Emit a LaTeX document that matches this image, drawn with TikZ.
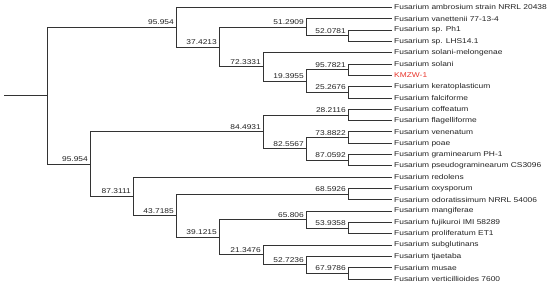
\documentclass[tikz,border=0pt]{standalone}
\usepackage{fontspec}
\newfontfamily\labfont{Liberation Sans}
\newcommand\hstr[1]{\scalebox{1.2}[1]{#1}}
\definecolor{treeline}{HTML}{333333}
\definecolor{txt}{HTML}{222222}
\definecolor{kmred}{HTML}{E8352B}
\tikzset{
  br/.style={draw=treeline, line width=0.85pt},
  leaflab/.style={anchor=west, inner sep=0pt, font=\labfont\fontsize{7}{8}\selectfont, text=txt},
  nlab/.style={anchor=base east, inner sep=0pt, font=\labfont\fontsize{7}{8}\selectfont, text=txt},
}
\begin{document}
\begin{tikzpicture}[x=1pt,y=-1pt]
\useasboundingbox (0,0) rectangle (550,288);
% leaves
\foreach \i/\nm in {0/l0,1/l1,2/l2,3/l3,4/l4,5/l5,6/l6,7/l7,8/l8,9/l9,10/l10,11/l11,12/l12,13/l13,14/l14,15/l15,16/l16,17/l17,18/l18,19/l19,20/l20,21/l21,22/l22,23/l23,24/l24}{
  \coordinate (\nm) at (392,{7.5+11.31*\i});
}
% internal nodes
\coordinate (root) at (47,95.73);
\coordinate (nA) at (176,27.29);
\coordinate (n374) at (219,47.085);
\coordinate (n51) at (306,27.29);
\coordinate (n52) at (348,35.775);
\coordinate (n723) at (263,66.88);
\coordinate (n193) at (306,81.015);
\coordinate (n957) at (348,69.705);
\coordinate (n252) at (348,92.325);
\coordinate (nB) at (90,164.16);
\coordinate (n844) at (263,131.91);
\coordinate (n282) at (348,114.945);
\coordinate (n825) at (306,148.875);
\coordinate (n738) at (348,137.565);
\coordinate (n870) at (348,160.185);
\coordinate (n873) at (133,196.41);
\coordinate (n437) at (176,215.67);
\coordinate (n685) at (348,194.115);
\coordinate (n391) at (219,237.23);
\coordinate (n658) at (306,219.56);
\coordinate (n539) at (348,228.045);
\coordinate (n213) at (263,254.9);
\coordinate (n527) at (306,264.8);
\coordinate (n679) at (348,273.285);
\coordinate (stem) at (4,95.73);
% branches
\draw[br] (stem) -- (root);
\draw[br] (root) |- (nA); \draw[br] (root) |- (nB);
\draw[br] (nA) |- (l0); \draw[br] (nA) |- (n374);
\draw[br] (n374) |- (n51); \draw[br] (n374) |- (n723);
\draw[br] (n51) |- (l1); \draw[br] (n51) |- (n52);
\draw[br] (n52) |- (l2); \draw[br] (n52) |- (l3);
\draw[br] (n723) |- (l4); \draw[br] (n723) |- (n193);
\draw[br] (n193) |- (n957); \draw[br] (n193) |- (n252);
\draw[br] (n957) |- (l5); \draw[br] (n957) |- (l6);
\draw[br] (n252) |- (l7); \draw[br] (n252) |- (l8);
\draw[br] (nB) |- (n844); \draw[br] (nB) |- (n873);
\draw[br] (n844) |- (n282); \draw[br] (n844) |- (n825);
\draw[br] (n282) |- (l9); \draw[br] (n282) |- (l10);
\draw[br] (n825) |- (n738); \draw[br] (n825) |- (n870);
\draw[br] (n738) |- (l11); \draw[br] (n738) |- (l12);
\draw[br] (n870) |- (l13); \draw[br] (n870) |- (l14);
\draw[br] (n873) |- (l15); \draw[br] (n873) |- (n437);
\draw[br] (n437) |- (n685); \draw[br] (n437) |- (n391);
\draw[br] (n685) |- (l16); \draw[br] (n685) |- (l17);
\draw[br] (n391) |- (n658); \draw[br] (n391) |- (n213);
\draw[br] (n658) |- (l18); \draw[br] (n658) |- (n539);
\draw[br] (n539) |- (l19); \draw[br] (n539) |- (l20);
\draw[br] (n213) |- (l21); \draw[br] (n213) |- (n527);
\draw[br] (n527) |- (l22); \draw[br] (n527) |- (n679);
\draw[br] (n679) |- (l23); \draw[br] (n679) |- (l24);
% leaf labels
\node[leaflab] (t0) at ([xshift=2pt]l0) {\hstr{Fusarium ambrosium strain NRRL 20438}};
\node[leaflab] (t1) at ([xshift=2pt]l1) {\hstr{Fusarium vanettenii 77-13-4}};
\node[leaflab] (t2) at ([xshift=2pt]l2) {\hstr{Fusarium sp. Ph1}};
\node[leaflab] (t3) at ([xshift=2pt]l3) {\hstr{Fusarium sp. LHS14.1}};
\node[leaflab] (t4) at ([xshift=2pt]l4) {\hstr{Fusarium solani-melongenae}};
\node[leaflab] (t5) at ([xshift=2pt]l5) {\hstr{Fusarium solani}};
\node[leaflab, text=kmred] (t6) at ([xshift=2pt]l6) {\hstr{KMZW-1}};
\node[leaflab] (t7) at ([xshift=2pt]l7) {\hstr{Fusarium keratoplasticum}};
\node[leaflab] (t8) at ([xshift=2pt]l8) {\hstr{Fusarium falciforme}};
\node[leaflab] (t9) at ([xshift=2pt]l9) {\hstr{Fusarium coffeatum}};
\node[leaflab] (t10) at ([xshift=2pt]l10) {\hstr{Fusarium flagelliforme}};
\node[leaflab] (t11) at ([xshift=2pt]l11) {\hstr{Fusarium venenatum}};
\node[leaflab] (t12) at ([xshift=2pt]l12) {\hstr{Fusarium poae}};
\node[leaflab] (t13) at ([xshift=2pt]l13) {\hstr{Fusarium graminearum PH-1}};
\node[leaflab] (t14) at ([xshift=2pt]l14) {\hstr{Fusarium pseudograminearum CS3096}};
\node[leaflab] (t15) at ([xshift=2pt]l15) {\hstr{Fusarium redolens}};
\node[leaflab] (t16) at ([xshift=2pt]l16) {\hstr{Fusarium oxysporum}};
\node[leaflab] (t17) at ([xshift=2pt]l17) {\hstr{Fusarium odoratissimum NRRL 54006}};
\node[leaflab] (t18) at ([xshift=2pt]l18) {\hstr{Fusarium mangiferae}};
\node[leaflab] (t19) at ([xshift=2pt]l19) {\hstr{Fusarium fujikuroi IMI 58289}};
\node[leaflab] (t20) at ([xshift=2pt]l20) {\hstr{Fusarium proliferatum ET1}};
\node[leaflab] (t21) at ([xshift=2pt]l21) {\hstr{Fusarium subglutinans}};
\node[leaflab] (t22) at ([xshift=2pt]l22) {\hstr{Fusarium tjaetaba}};
\node[leaflab] (t23) at ([xshift=2pt]l23) {\hstr{Fusarium musae}};
\node[leaflab] (t24) at ([xshift=2pt]l24) {\hstr{Fusarium verticillioides 7600}};
% support labels
\node[nlab] (bA) at ([xshift=-2pt,yshift=2.5pt]nA) {\hstr{95.954}};
\node[nlab] (b374) at ([xshift=-2pt,yshift=2.5pt]n374) {\hstr{37.4213}};
\node[nlab] (b51) at ([xshift=-2pt,yshift=2.5pt]n51) {\hstr{51.2909}};
\node[nlab] (b52) at ([xshift=-2pt,yshift=2.5pt]n52) {\hstr{52.0781}};
\node[nlab] (b723) at ([xshift=-2pt,yshift=2.5pt]n723) {\hstr{72.3331}};
\node[nlab] (b193) at ([xshift=-2pt,yshift=2.5pt]n193) {\hstr{19.3955}};
\node[nlab] (b957) at ([xshift=-2pt,yshift=2.5pt]n957) {\hstr{95.7821}};
\node[nlab] (b252) at ([xshift=-2pt,yshift=2.5pt]n252) {\hstr{25.2676}};
\node[nlab] (bB) at ([xshift=-2pt,yshift=2.5pt]nB) {\hstr{95.954}};
\node[nlab] (b844) at ([xshift=-2pt,yshift=2.5pt]n844) {\hstr{84.4931}};
\node[nlab] (b282) at ([xshift=-2pt,yshift=2.5pt]n282) {\hstr{28.2116}};
\node[nlab] (b825) at ([xshift=-2pt,yshift=2.5pt]n825) {\hstr{82.5567}};
\node[nlab] (b738) at ([xshift=-2pt,yshift=2.5pt]n738) {\hstr{73.8822}};
\node[nlab] (b870) at ([xshift=-2pt,yshift=2.5pt]n870) {\hstr{87.0592}};
\node[nlab] (b873) at ([xshift=-2pt,yshift=2.5pt]n873) {\hstr{87.3111}};
\node[nlab] (b437) at ([xshift=-2pt,yshift=2.5pt]n437) {\hstr{43.7185}};
\node[nlab] (b685) at ([xshift=-2pt,yshift=2.5pt]n685) {\hstr{68.5926}};
\node[nlab] (b391) at ([xshift=-2pt,yshift=2.5pt]n391) {\hstr{39.1215}};
\node[nlab] (b658) at ([xshift=-2pt,yshift=2.5pt]n658) {\hstr{65.806}};
\node[nlab] (b539) at ([xshift=-2pt,yshift=2.5pt]n539) {\hstr{53.9358}};
\node[nlab] (b213) at ([xshift=-2pt,yshift=2.5pt]n213) {\hstr{21.3476}};
\node[nlab] (b527) at ([xshift=-2pt,yshift=2.5pt]n527) {\hstr{52.7236}};
\node[nlab] (b679) at ([xshift=-2pt,yshift=2.5pt]n679) {\hstr{67.9786}};
\end{tikzpicture}
\end{document}
